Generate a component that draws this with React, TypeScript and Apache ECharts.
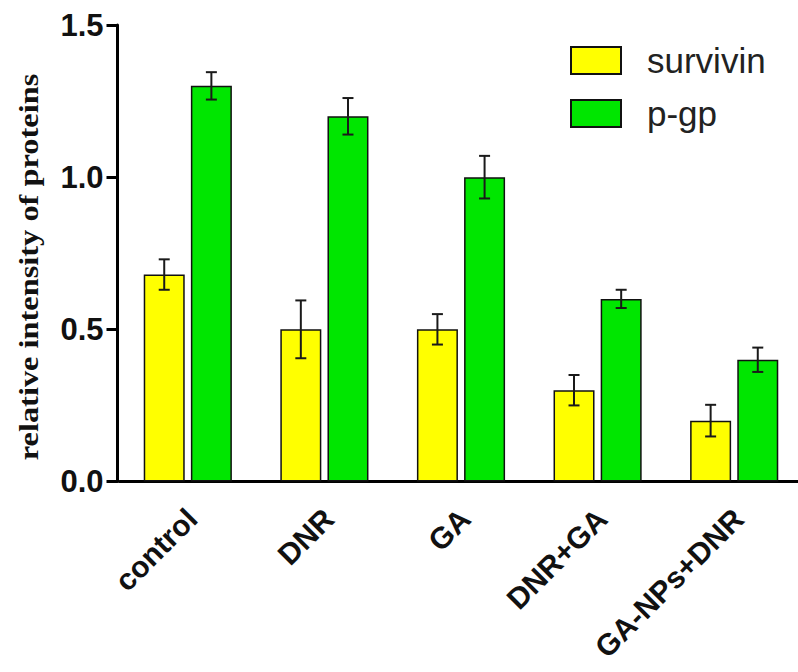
import React, { useEffect, useRef } from "react";
import * as echarts from "echarts";

const categories = ["control", "DNR", "GA", "DNR+GA", "GA-NPs+DNR"];
const survivin = [0.68, 0.5, 0.5, 0.3, 0.2];
const survivinErr = [0.05, 0.095, 0.05, 0.05, 0.052];
const pgp = [1.3, 1.2, 1.0, 0.6, 0.4];
const pgpErr = [0.045, 0.06, 0.07, 0.03, 0.04];
const yMin = 0;
const yMax = 1.5;
const yInterval = 0.5;

const BAR_W = 41;
const GAP_RATIO = 0.15;
const OFFSET = (BAR_W + BAR_W * GAP_RATIO) / 2;

function errorSeries(name: string, vals: number[], errs: number[], dir: number) {
  return {
    type: "custom",
    name: name + " error",
    z: 10,
    silent: true,
    data: vals.map((v, i) => [i, v, errs[i]]),
    encode: { x: 0, y: 1 },
    renderItem: (params: any, api: any) => {
      const i = api.value(0);
      const v = api.value(1);
      const e = api.value(2);
      const top = api.coord([i, v + e]);
      const bot = api.coord([i, v - e]);
      const x = top[0] + dir * OFFSET;
      const cap = 5.5;
      const st = { stroke: "#1a1a1a", lineWidth: 2 };
      return {
        type: "group",
        children: [
          { type: "line", shape: { x1: x, y1: top[1], x2: x, y2: bot[1] }, style: st },
          { type: "line", shape: { x1: x - cap, y1: top[1], x2: x + cap, y2: top[1] }, style: st },
          { type: "line", shape: { x1: x - cap, y1: bot[1], x2: x + cap, y2: bot[1] }, style: st },
        ],
      };
    },
  };
}

const labelFont = "'Liberation Sans', Arial, sans-serif";

export default function App() {
  const ref = useRef<HTMLDivElement>(null);
  useEffect(() => {
    if (!ref.current) return;
    const chart = echarts.init(ref.current, undefined, { renderer: "svg" });
    chart.setOption({
      animation: false,
      backgroundColor: "#ffffff",
      grid: {
        left: 119.5,
        width: 683,
        top: 25,
        bottom: 190.5,
        containLabel: false,
        outerBoundsMode: "none",
      },
      legend: {
        orient: "vertical",
        left: 570,
        top: 43,
        padding: 0,
        itemWidth: 50,
        itemHeight: 27,
        itemGap: 18,
        icon: "rect",
        itemStyle: { borderColor: "#111", borderWidth: 2 },
        textStyle: {
          fontSize: 35,
          fontFamily: labelFont,
          color: "#222",
          padding: [0, 0, 0, 21],
        },
        data: ["survivin", "p-gp"],
      },
      xAxis: {
        type: "category",
        data: categories,
        axisLine: { lineStyle: { color: "#000", width: 3 } },
        axisTick: { alignWithLabel: true, length: 12, lineStyle: { color: "#000", width: 3 } },
        axisLabel: {
          rotate: 45,
          margin: 28,
          interval: 0,
          fontSize: 30,
          fontWeight: "bold",
          fontFamily: labelFont,
          color: "#111",
          formatter: (v: string) => `{t|${v}}`,
          rich: {
            t: {
              padding: [12, 0, 0, 0],
              fontSize: 30,
              fontWeight: "bold",
              fontFamily: labelFont,
              color: "#111",
            },
          },
        },
      },
      yAxis: {
        type: "value",
        min: yMin,
        max: yMax,
        interval: yInterval,
        offset: 2,
        splitLine: { show: false },
        axisLine: { show: true, lineStyle: { color: "#000", width: 3 } },
        axisTick: { show: true, length: 11, lineStyle: { color: "#000", width: 3 } },
        axisLabel: {
          margin: 14,
          fontSize: 31,
          fontWeight: "bold",
          fontFamily: labelFont,
          color: "#111",
          formatter: (v: number) => v.toFixed(1),
        },
      },
      graphic: [
        {
          type: "text",
          x: 28,
          y: 267,
          rotation: Math.PI / 2,
          scaleX: 1.2,
          style: {
            text: "relative intensity of proteins",
            font: "bold 27px 'Liberation Serif', 'Times New Roman', serif",
            fill: "#111",
            textAlign: "center",
            textVerticalAlign: "middle",
            align: "center",
            verticalAlign: "middle",
          },
        },
      ],
      series: [
        {
          name: "survivin",
          type: "bar",
          data: survivin,
          barWidth: BAR_W,
          barGap: "15%",
          itemStyle: { color: "#FFFF00", borderColor: "#111", borderWidth: 1.5 },
        },
        {
          name: "p-gp",
          type: "bar",
          data: pgp,
          barWidth: BAR_W,
          barGap: "15%",
          itemStyle: { color: "#00E600", borderColor: "#111", borderWidth: 1.5 },
        },
        errorSeries("survivin", survivin, survivinErr, -1),
        errorSeries("p-gp", pgp, pgpErr, 1),
      ],
    });
    return () => chart.dispose();
  }, []);
  return (
    <div
      ref={ref}
      style={{ position: "fixed", left: 0, top: 0, width: 798, height: 672 }}
    />
  );
}
